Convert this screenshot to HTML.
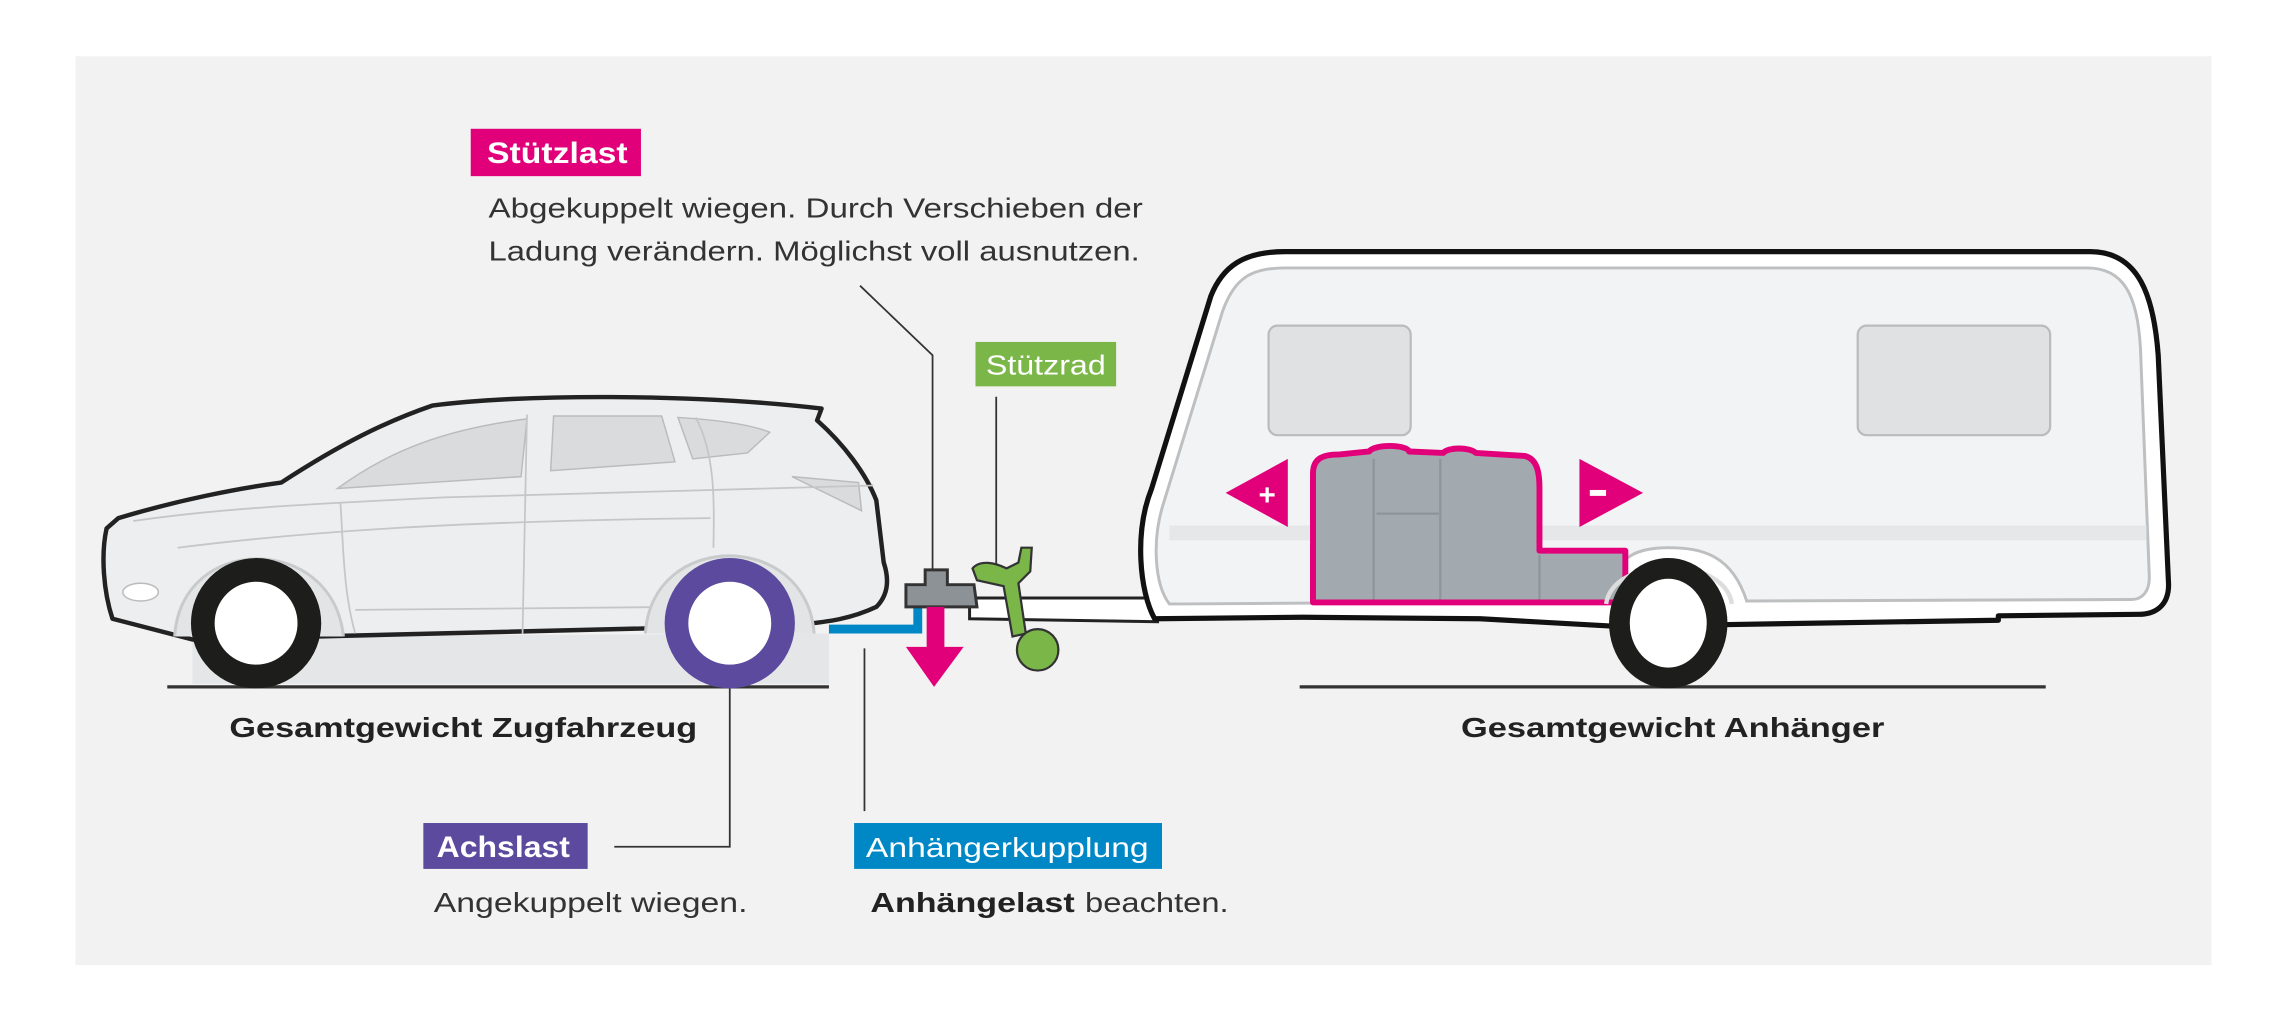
<!DOCTYPE html>
<html><head><meta charset="utf-8"><style>html,body{margin:0;padding:0;background:#fff}svg{display:block}</style></head>
<body>
<svg width="2287" height="1035" viewBox="0 0 1545 699.2" preserveAspectRatio="none" xmlns="http://www.w3.org/2000/svg" font-family="Liberation Sans, sans-serif">
<rect x="0" y="0" width="1545" height="700" fill="#fff"/>
<rect x="51" y="38" width="1443" height="614" fill="#f2f2f2"/>

<g stroke="#333" stroke-width="1.2" fill="none">
<polyline points="581,193 630,240 630,385"/>
<polyline points="673,268 673,385"/>
<polyline points="493,422 493,572 415,572"/>
<polyline points="584,438 584,548"/>
</g>

<line x1="113" y1="464" x2="560" y2="464" stroke="#333" stroke-width="2.2"/>
<line x1="878" y1="464" x2="1382" y2="464" stroke="#333" stroke-width="2.2"/>

<path d="M130,430 L560,428 L560,462 L130,462 Z" fill="#e4e6e8"/>

<path d="M76,418 C70,400 68,375 72,357 L80,350 C120,338 160,330 190,326 C230,300 260,285 292,274 C350,266 470,266 555,276 L552,284 C570,300 585,320 592,338 L597,380 C601,392 600,402 592,410 C575,418 560,420 540,422 L130,432 Z" fill="#eceef0" stroke="#222" stroke-width="3" stroke-linejoin="round"/>
<path d="M228,330 C262,305 300,290 356,283 L352,322 Z" fill="#d9dbdd" stroke="#bbb" stroke-width="1"/>
<path d="M374,281 L447,281 L456,312 L372,318 Z" fill="#d9dbdd" stroke="#bbb" stroke-width="1"/>
<path d="M458,282 C490,284 510,288 520,292 L505,306 L468,310 Z" fill="#d9dbdd" stroke="#bbb" stroke-width="1"/>
<path d="M535,322 L580,326 L582,345 Z" fill="#d9dbdd" stroke="#bbb" stroke-width="1"/>
<g stroke="#c4c6c8" stroke-width="1.2" fill="none">
<path d="M90,352 C150,343 220,340 300,336 L590,328"/>
<path d="M230,340 C232,370 232,400 240,428"/>
<path d="M356,280 L353,428"/>
<path d="M470,282 C485,310 482,350 482,370"/>
<path d="M120,370 C200,360 300,352 480,350"/>
<path d="M240,412 L460,410"/>
</g>
<ellipse cx="95" cy="400" rx="12" ry="6" fill="#fff" stroke="#bbb"/>

<path d="M118,430 C122,360 225,360 232,430" fill="#e2e4e6" stroke="#c8cacc" stroke-width="2"/>
<path d="M436,428 C440,358 545,358 550,428" fill="#e2e4e6" stroke="#c8cacc" stroke-width="2"/>
<circle cx="173" cy="421" r="36" fill="#fff" stroke="#1d1d1b" stroke-width="16"/>
<circle cx="493" cy="421" r="36" fill="#fff" stroke="#5b4a9d" stroke-width="16"/>

<path d="M560,425 L620,425 L620,400" fill="none" stroke="#0088c6" stroke-width="6"/>
<path d="M655,404 L782,404 L782,420 L655,418 Z" fill="#fff" stroke="#222" stroke-width="2"/>
<path d="M612,395 L625,395 L625,385 L640,385 L640,395 L658,395 L660,410 L612,410 Z" fill="#8c9296" stroke="#333" stroke-width="2"/>
<rect x="626" y="410" width="12" height="28" fill="#e2007a"/>
<polygon points="612,437 651,437 631,464" fill="#e2007a"/>
<g stroke="#333" stroke-width="1.5" fill="#7ab648">
<path d="M657,384 C662,378 672,380 680,384 L688,380 L690,370 L697,370 L696,386 L688,394 L693,428 L684,430 L678,396 L660,392 Z"/>
<circle cx="701" cy="439" r="14"/>
</g>

<path d="M780,418 C770,400 766,360 778,330 L818,200 C826,180 840,170 868,170 L1412,170 C1445,170 1455,200 1458,240 L1465,395 C1465,410 1455,415 1445,415 L1350,416 L1350,419 L1163,422 L1090,423 L1000,418 L880,417 Z" fill="#fff" stroke="#111" stroke-width="3.5" stroke-linejoin="round"/>
<path d="M790,408 C780,395 778,365 786,340 L826,210 C834,188 845,181 868,181 L1410,181 C1435,181 1444,200 1446,235 L1452,390 C1452,400 1447,405 1440,405 L1180,406 C1170,375 1150,370 1127,370 C1100,370 1090,380 1085,406 L800,408 Z" fill="#f2f3f4" stroke="#bdbfc1" stroke-width="2"/>
<rect x="790" y="355" width="660" height="10" fill="#e6e7e8"/>
<rect x="857" y="220" width="96" height="74" rx="6" fill="#e0e1e2" stroke="#bbb" stroke-width="1.5"/>
<rect x="1255" y="220" width="130" height="74" rx="6" fill="#e0e1e2" stroke="#bbb" stroke-width="1.5"/>
<path d="M887,320 C887,310 893,307 905,307 L925,305 C928,300 950,300 952,305 L975,306 C978,302 993,302 997,306 L1030,308 C1038,310 1040,318 1040,330 L1040,372 L1098,372 L1098,407 L887,407 Z" fill="#a3aaaf" stroke="#e2007a" stroke-width="4" stroke-linejoin="round"/>
<g stroke="#8e959a" stroke-width="1.5" fill="none">
<path d="M928,310 L928,405"/><path d="M973,310 L973,405"/><path d="M1040,375 L1040,405"/>
<path d="M930,347 L972,347"/>
</g>
<polygon points="828,333 870,310 870,356" fill="#e2007a"/>
<text x="856" y="341" font-size="20" font-weight="bold" fill="#fff" text-anchor="middle">+</text>
<polygon points="1067,310 1067,356 1110,333" fill="#e2007a"/>
<rect x="1074" y="331" width="11" height="4" fill="#fff"/>
<path d="M1085,408 C1090,375 1165,375 1170,408" fill="none" stroke="#ddd" stroke-width="3"/>
<ellipse cx="1127" cy="421" rx="33" ry="37" fill="#fff" stroke="#1d1d1b" stroke-width="14"/>

<rect x="318" y="87" width="115" height="32" fill="#e2007a"/>
<text x="329" y="110" font-size="20" font-weight="bold" fill="#fff" textLength="95" lengthAdjust="spacingAndGlyphs">Stützlast</text>
<text x="330" y="147" font-size="19" fill="#333" textLength="442" lengthAdjust="spacingAndGlyphs">Abgekuppelt wiegen. Durch Verschieben der</text>
<text x="330" y="176" font-size="19" fill="#333" textLength="440" lengthAdjust="spacingAndGlyphs">Ladung verändern. Möglichst voll ausnutzen.</text>

<rect x="659" y="231" width="95" height="30" fill="#7ab648"/>
<text x="666" y="253" font-size="19" fill="#fff" textLength="81" lengthAdjust="spacingAndGlyphs">Stützrad</text>

<text x="155" y="498" font-size="19" font-weight="bold" fill="#222" textLength="316" lengthAdjust="spacingAndGlyphs">Gesamtgewicht Zugfahrzeug</text>
<text x="987" y="498" font-size="19" font-weight="bold" fill="#222" textLength="286" lengthAdjust="spacingAndGlyphs">Gesamtgewicht Anhänger</text>

<rect x="286" y="556" width="111" height="31" fill="#5b4a9d"/>
<text x="295" y="579" font-size="20" font-weight="bold" fill="#fff" textLength="90" lengthAdjust="spacingAndGlyphs">Achslast</text>
<text x="293" y="616" font-size="19" fill="#333" textLength="212" lengthAdjust="spacingAndGlyphs">Angekuppelt wiegen.</text>

<rect x="577" y="556" width="208" height="31" fill="#0088c6"/>
<text x="585" y="579" font-size="19" fill="#fff" textLength="191" lengthAdjust="spacingAndGlyphs">Anhängerkupplung</text>
<text x="588" y="616" font-size="19" font-weight="bold" fill="#222" textLength="138" lengthAdjust="spacingAndGlyphs">Anhängelast</text>
<text x="733" y="616" font-size="19" fill="#333" textLength="97" lengthAdjust="spacingAndGlyphs">beachten.</text>
</svg>
</body></html>
